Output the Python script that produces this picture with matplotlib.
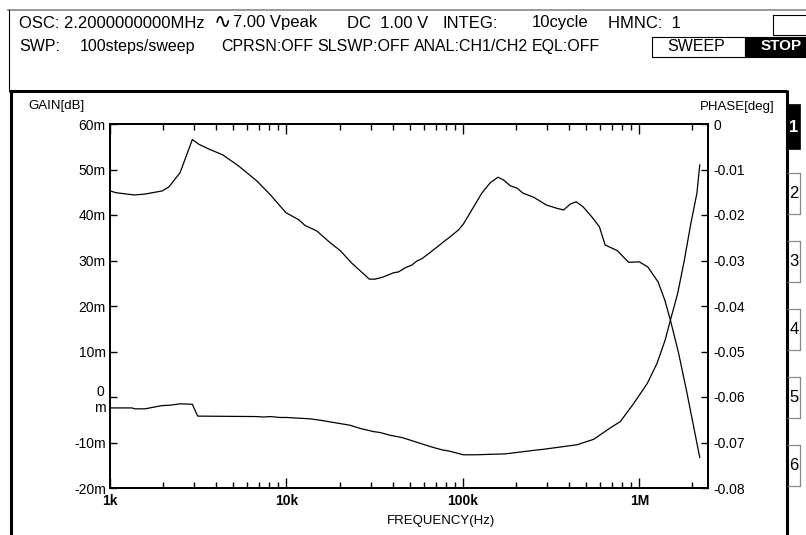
import matplotlib
matplotlib.use('Agg')
import matplotlib.pyplot as plt
from matplotlib.patches import Rectangle
from matplotlib.ticker import FixedLocator, NullFormatter

# ---- data ----
# upper trace, GAIN [mdB] (left axis)
gain_freq = [1000, 1081, 1374, 1580, 1980, 2160, 2495, 2930, 3170, 3535,
             4360, 5345, 6790, 8080, 9940, 11700, 12750, 14850, 17700, 20150,
             23480, 29500, 31800, 35500, 40450, 43200, 47100, 51400, 54900, 58600,
             63900, 74400, 79400, 84000, 94300, 100600, 128000, 143000, 158000, 170000,
             186000, 203000, 219000, 252000, 297000, 339000, 372000, 406000, 439000, 480000,
             540000, 594000, 640000, 748000, 870000, 1000000, 1116000, 1277000, 1394000, 1500000,
             1670000, 1864000, 2200000]
gain_mdb = [45.3, 44.9, 44.4, 44.6, 45.3, 46.2, 49.3, 56.6, 55.6, 54.7,
            53.2, 50.8, 47.5, 44.5, 40.5, 39.0, 37.7, 36.5, 33.9, 32.2,
            29.4, 25.9, 25.9, 26.4, 27.3, 27.5, 28.4, 29.0, 29.9, 30.4,
            31.5, 33.5, 34.4, 35.1, 36.7, 38.0, 44.8, 47.1, 48.3, 47.7,
            46.4, 45.9, 44.8, 43.9, 42.2, 41.5, 41.1, 42.4, 42.9, 41.8,
            39.5, 37.4, 33.4, 32.2, 29.6, 29.7, 28.6, 25.3, 21.3, 16.9,
            9.6, 0.8, -13.3]

# lower trace, PHASE [deg] (right axis)
phase_freq = [1000, 1328, 1386, 1580, 1965, 2190, 2495, 2930, 3140, 6790,
              7400, 8080, 9220, 10060, 13600, 15500, 18480, 22900, 26100, 31100,
              33900, 38600, 45000, 50500, 58500, 68100, 76000, 84000, 94000, 100500,
              117500, 143000, 174000, 211000, 256000, 285000, 443000, 551000, 684000, 780000,
              930000, 1110000, 1260000, 1400000, 1500000, 1650000, 1800000, 1960000, 2120000, 2200000]
phase_deg = [-0.0624, -0.0624, -0.0626, -0.0626, -0.0619, -0.0618, -0.0615, -0.0616, -0.0642, -0.0643,
             -0.0644, -0.0643, -0.0645, -0.0645, -0.0648, -0.0651, -0.0656, -0.0662, -0.0669, -0.0676,
             -0.0678, -0.0684, -0.0689, -0.0695, -0.0703, -0.0711, -0.0716, -0.0719, -0.0724, -0.0727,
             -0.0727, -0.0726, -0.0725, -0.0721, -0.0717, -0.0715, -0.0705, -0.0693, -0.0668, -0.0654,
             -0.0614, -0.0570, -0.0526, -0.0475, -0.0431, -0.0372, -0.0299, -0.0218, -0.0152, -0.0090]

x_ticks = [1e3, 1e4, 1e5, 1e6]
x_labels = ['1k', '10k', '100k', '1M']
gain_ticks = [-20, -10, 0, 10, 20, 30, 40, 50, 60]
gain_labels = ['-20m', '-10m', '0\nm', '10m', '20m', '30m', '40m', '50m', '60m']
phase_ticks = [-0.08, -0.07, -0.06, -0.05, -0.04, -0.03, -0.02, -0.01, 0]
phase_labels = ['-0.08', '-0.07', '-0.06', '-0.05', '-0.04', '-0.03', '-0.02', '-0.01', '0']

header1 = ['OSC: 2.2000000000MHz', '\u223f', '7.00 Vpeak', 'DC  1.00 V', 'INTEG:', '10cycle', 'HMNC:  1']
header2 = ['SWP:', '100steps/sweep', 'CPRSN:OFF', 'SLSWP:OFF', 'ANAL:CH1/CH2', 'EQL:OFF']
tabs = ['1', '2', '3', '4', '5', '6']

plt.rcParams['font.family'] = ['Liberation Sans', 'DejaVu Sans']

W, H = 806, 535
fig = plt.figure(figsize=(W / 100, H / 100), dpi=100)
renderer = fig.canvas.get_renderer()

# pixel overlay for the instrument frame
bg = fig.add_axes([0, 0, 1, 1])
bg.set_xlim(0, W)
bg.set_ylim(H, 0)
bg.axis('off')


def text_row(items, starts, y, size, gap=4):
    # lay the segments out left to right, never letting one run into the next
    x_end = 0
    for s, x0 in zip(items, starts):
        x0 = max(x0, x_end + gap)
        if s == '\u223f':
            t = bg.text(x0, y - 1, s, fontsize=size + 3, family=['DejaVu Sans'], va='center', ha='left')
        else:
            t = bg.text(x0, y, s, fontsize=size, va='center', ha='left')
        bb = t.get_window_extent(renderer)
        x_end = x0 + bb.width


bg.plot([8, W], [9.5, 9.5], color='#888888', lw=1.2)
bg.plot([8.5, 8.5], [9.5, 91], color='black', lw=0.8)
bg.plot([773, 773, W], [15, 35, 35], color='black', lw=0.8)
bg.plot([773, W], [15, 15], color='black', lw=0.8)
bg.add_patch(Rectangle((652, 36.5), 93, 20.5, facecolor='white', edgecolor='black', lw=0.8))
bg.add_patch(Rectangle((745, 36.5), 61, 20.5, facecolor='black', edgecolor='black', lw=0.8))
bg.text(667, 46.5, 'SWEEP', fontsize=11.5, va='center', ha='left')
bg.text(781, 46.5, 'STOP', fontsize=11, weight='bold', color='white', va='center', ha='center')

text_row(header1, [19, 214, 233, 347, 442, 532, 608], 23, 12, gap=1)
text_row(header2, [19, 80, 221, 311, 409, 523], 46.5, 11.5)

# graph frame
bg.plot([9, 787], [91, 91], color='black', lw=2.2, solid_capstyle='butt')
bg.plot([10.5, 10.5], [90, H], color='black', lw=2.2, solid_capstyle='butt')
bg.plot([786.5, 786.5], [90, H], color='black', lw=2.2, solid_capstyle='butt')

# channel tabs on the right
tab_top = [104, 173, 241, 309, 377, 445]
for i, t in enumerate(tabs):
    y0 = tab_top[i]
    if i == 0:
        bg.add_patch(Rectangle((787.5, y0), 12.5, 45, facecolor='black', edgecolor='black', lw=0.5))
        bg.text(794, y0 + 23, t, fontsize=12, weight='bold', color='white', ha='center', va='center')
    else:
        bg.plot([787.5, 800, 800, 787.5], [y0, y0, y0 + 41, y0 + 41], color='#888888', lw=0.9)
        bg.text(794, y0 + 20.5, t, fontsize=12, color='black', ha='center', va='center')

bg.text(28, 106, 'GAIN[dB]', fontsize=9.5, va='center', ha='left')
bg.text(775, 107, 'PHASE[deg]', fontsize=9.5, va='center', ha='right')
bg.text(387, 521, 'FREQUENCY(Hz)', fontsize=9.5, va='center', ha='left')

# main graph
ax = fig.add_axes([110 / W, 1 - 488 / H, 598 / W, 364 / H])
ax.set_xscale('log')
ax.plot(gain_freq, gain_mdb, color='black', lw=0.9)
ax.set_xlim(1000, 2.45e6)
ax.set_ylim(-20, 60)
ax.xaxis.set_major_locator(FixedLocator(x_ticks))
ax.set_xticklabels(x_labels, fontsize=10, weight='bold')
minor = [m * 10 ** d for d in range(3, 7) for m in range(2, 10)]
ax.xaxis.set_minor_locator(FixedLocator(minor))
ax.xaxis.set_minor_formatter(NullFormatter())
ax.set_yticks(gain_ticks)
ax.set_yticklabels(gain_labels, fontsize=10, multialignment='center')
ax.tick_params(axis='x', which='major', direction='in', length=7, width=1, top=True, pad=4)
ax.tick_params(axis='x', which='minor', direction='in', length=4, width=1, top=True)
ax.tick_params(axis='y', which='major', direction='in', length=5, width=1, pad=3)

ax2 = ax.twinx()
ax2.plot(phase_freq, phase_deg, color='black', lw=0.9)
ax2.set_ylim(-0.08, 0)
ax2.set_yticks(phase_ticks)
ax2.set_yticklabels(phase_labels, fontsize=10)
ax2.tick_params(axis='y', direction='in', length=5, width=1, pad=4)

for a in (ax, ax2):
    for sp in a.spines.values():
        sp.set_linewidth(1.4)

fig.savefig('out.png', dpi=100)
